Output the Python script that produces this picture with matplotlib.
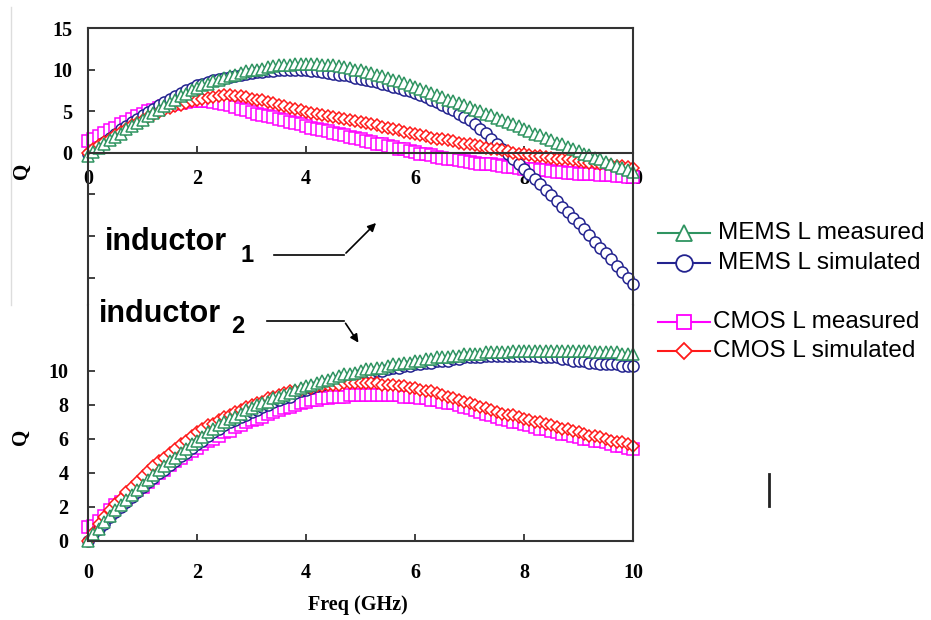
import numpy as np
import matplotlib.pyplot as plt
from matplotlib.lines import Line2D
from matplotlib.patches import FancyArrowPatch

W, H = 931, 620

# frequency sweep, 0.1 GHz steps
freq = np.linspace(0, 10, 101)

# upper plot (inductor 1)
mems_meas_1 = [-0.4, 0.1, 0.6, 1.0, 1.5, 1.9,
               2.3, 2.8, 3.2, 3.6, 4.0, 4.4, 4.8, 5.2, 5.6, 6.0,
               6.4, 6.8, 7.1, 7.5, 7.8, 8.1, 8.3, 8.6, 8.8, 9.0,
               9.2, 9.4, 9.6, 9.8, 9.9, 10.0, 10.1, 10.3, 10.4, 10.5,
               10.6, 10.6, 10.7, 10.7, 10.7, 10.7, 10.7, 10.6, 10.6, 10.5,
               10.4, 10.3, 10.2, 10.0, 9.9, 9.7, 9.6, 9.4, 9.2, 9.0,
               8.8, 8.6, 8.4, 8.1, 7.9, 7.7, 7.4, 7.2, 6.9, 6.7,
               6.4, 6.2, 6.0, 5.7, 5.5, 5.2, 5.0, 4.7, 4.5, 4.2,
               3.9, 3.7, 3.4, 3.2, 2.9, 2.6, 2.3, 2.1, 1.8, 1.5,
               1.2, 1.0, 0.7, 0.5, 0.2, -0.1, -0.3, -0.6, -0.8, -1.1,
               -1.3, -1.6, -1.8, -2.1, -2.3]
mems_sim_1 = [-0.2, 0.3, 0.8, 1.3, 1.8, 2.3,
              2.8, 3.2, 3.7, 4.1, 4.5, 4.9, 5.3, 5.7, 6.1, 6.5,
              6.8, 7.2, 7.5, 7.8, 8.1, 8.3, 8.5, 8.7, 8.9, 9.0,
              9.1, 9.2, 9.4, 9.5, 9.6, 9.7, 9.7, 9.8, 9.8, 9.9,
              9.9, 9.9, 9.9, 9.9, 9.9, 9.8, 9.8, 9.7, 9.6, 9.5,
              9.4, 9.3, 9.2, 9.0, 8.9, 8.8, 8.6, 8.5, 8.3, 8.1,
              7.9, 7.8, 7.6, 7.4, 7.2, 6.9, 6.7, 6.4, 6.1, 5.8,
              5.4, 5.1, 4.7, 4.3, 3.9, 3.4, 2.9, 2.4, 1.7, 1.1,
              0.5, -0.1, -0.7, -1.4, -2.0, -2.6, -3.2, -3.8, -4.5, -5.1,
              -5.8, -6.5, -7.1, -7.8, -8.5, -9.2, -9.9, -10.7, -11.4, -12.1,
              -12.8, -13.6, -14.3, -15.1, -15.8]
cmos_meas_1 = [1.4, 1.7, 2.0, 2.4, 2.7, 3.0,
               3.4, 3.7, 4.1, 4.4, 4.7, 5.0, 5.2, 5.4, 5.6, 5.8,
               5.9, 6.0, 6.1, 6.2, 6.2, 6.2, 6.2, 6.1, 6.0, 5.9,
               5.7, 5.5, 5.3, 5.1, 4.9, 4.7, 4.6, 4.4, 4.3, 4.1,
               3.9, 3.7, 3.6, 3.4, 3.2, 3.0, 2.9, 2.7, 2.6, 2.4,
               2.2, 2.1, 1.9, 1.8, 1.6, 1.4, 1.3, 1.1, 1.0, 0.8,
               0.7, 0.5, 0.4, 0.2, 0.1, -0.1, -0.2, -0.3, -0.5, -0.6,
               -0.7, -0.8, -0.9, -1.0, -1.1, -1.2, -1.3, -1.3, -1.4, -1.5,
               -1.6, -1.7, -1.7, -1.8, -1.9, -2.0, -2.0, -2.1, -2.1, -2.2,
               -2.3, -2.3, -2.4, -2.4, -2.5, -2.5, -2.6, -2.6, -2.7, -2.7,
               -2.7, -2.8, -2.8, -2.9, -2.9]
cmos_sim_1 = [0.0, 0.4, 0.9, 1.3, 1.7, 2.1,
              2.5, 2.9, 3.3, 3.6, 4.0, 4.3, 4.6, 4.9, 5.2, 5.4,
              5.6, 5.8, 6.0, 6.2, 6.3, 6.5, 6.6, 6.7, 6.8, 6.9,
              6.9, 6.8, 6.8, 6.7, 6.5, 6.4, 6.3, 6.1, 6.0, 5.8,
              5.6, 5.4, 5.3, 5.1, 4.9, 4.8, 4.7, 4.6, 4.4, 4.3,
              4.2, 4.1, 4.0, 3.8, 3.7, 3.6, 3.4, 3.3, 3.1, 3.0,
              2.8, 2.7, 2.5, 2.4, 2.2, 2.1, 2.0, 1.8, 1.7, 1.6,
              1.5, 1.4, 1.2, 1.1, 1.0, 0.9, 0.8, 0.6, 0.5, 0.4,
              0.3, 0.2, 0.0, -0.1, -0.2, -0.3, -0.4, -0.4, -0.5, -0.6,
              -0.7, -0.8, -0.8, -0.9, -1.0, -1.1, -1.2, -1.2, -1.3, -1.4,
              -1.5, -1.6, -1.6, -1.7, -1.8]

# lower plot (inductor 2)
mems_meas_2 = [0.0, 0.4, 0.7, 1.1, 1.5, 1.8,
               2.1, 2.4, 2.7, 3.0, 3.3, 3.6, 3.9, 4.2, 4.4, 4.7,
               4.9, 5.2, 5.4, 5.7, 5.9, 6.1, 6.4, 6.6, 6.8, 7.0,
               7.2, 7.3, 7.5, 7.7, 7.8, 8.0, 8.1, 8.2, 8.4, 8.5,
               8.6, 8.7, 8.9, 9.0, 9.1, 9.2, 9.3, 9.4, 9.5, 9.6,
               9.7, 9.8, 9.8, 9.9, 10.0, 10.1, 10.1, 10.2, 10.2, 10.3,
               10.4, 10.4, 10.5, 10.5, 10.6, 10.6, 10.7, 10.7, 10.8, 10.8,
               10.8, 10.9, 10.9, 11.0, 11.0, 11.0, 11.0, 11.1, 11.1, 11.1,
               11.1, 11.1, 11.2, 11.2, 11.2, 11.2, 11.2, 11.2, 11.2, 11.2,
               11.2, 11.2, 11.2, 11.2, 11.2, 11.2, 11.2, 11.1, 11.1, 11.1,
               11.1, 11.1, 11.0, 11.0, 11.0]
mems_sim_2 = [0.0, 0.4, 0.7, 1.0, 1.4, 1.7,
              2.0, 2.3, 2.6, 2.9, 3.2, 3.5, 3.7, 4.0, 4.2, 4.5,
              4.7, 5.0, 5.2, 5.5, 5.7, 5.9, 6.2, 6.4, 6.6, 6.8,
              7.0, 7.1, 7.3, 7.4, 7.6, 7.7, 7.9, 8.0, 8.2, 8.3,
              8.4, 8.5, 8.7, 8.8, 8.9, 9.0, 9.1, 9.2, 9.3, 9.4,
              9.5, 9.6, 9.6, 9.7, 9.8, 9.9, 9.9, 10.0, 10.0, 10.1,
              10.2, 10.2, 10.3, 10.3, 10.4, 10.4, 10.5, 10.5, 10.6, 10.6,
              10.6, 10.7, 10.7, 10.8, 10.8, 10.8, 10.8, 10.9, 10.9, 10.9,
              10.9, 10.9, 10.9, 10.9, 10.9, 10.9, 10.9, 10.8, 10.8, 10.8,
              10.8, 10.7, 10.7, 10.6, 10.6, 10.6, 10.5, 10.5, 10.4, 10.4,
              10.4, 10.4, 10.3, 10.3, 10.3]
cmos_meas_2 = [0.8, 0.9, 1.2, 1.5, 1.8, 2.1,
               2.3, 2.5, 2.8, 3.0, 3.2, 3.5, 3.7, 4.0, 4.2, 4.5,
               4.7, 4.9, 5.1, 5.3, 5.5, 5.7, 5.9, 6.0, 6.2, 6.4,
               6.5, 6.7, 6.8, 7.0, 7.1, 7.2, 7.3, 7.5, 7.6, 7.7,
               7.8, 7.9, 8.0, 8.1, 8.2, 8.3, 8.3, 8.4, 8.4, 8.5,
               8.5, 8.5, 8.6, 8.6, 8.6, 8.6, 8.6, 8.6, 8.6, 8.6,
               8.6, 8.6, 8.5, 8.5, 8.5, 8.4, 8.4, 8.3, 8.3, 8.2,
               8.1, 8.1, 8.0, 7.9, 7.8, 7.7, 7.6, 7.5, 7.4, 7.3,
               7.2, 7.1, 7.0, 7.0, 6.9, 6.8, 6.7, 6.6, 6.6, 6.5,
               6.4, 6.3, 6.3, 6.2, 6.1, 6.0, 6.0, 5.9, 5.9, 5.8,
               5.7, 5.6, 5.6, 5.5, 5.4]
cmos_sim_2 = [0.0, 0.5, 1.0, 1.4, 1.8, 2.2,
              2.5, 2.9, 3.2, 3.5, 3.8, 4.1, 4.4, 4.7, 4.9, 5.2,
              5.4, 5.7, 5.9, 6.2, 6.4, 6.6, 6.8, 6.9, 7.1, 7.3,
              7.4, 7.6, 7.7, 7.9, 8.0, 8.1, 8.2, 8.4, 8.5, 8.6,
              8.7, 8.8, 8.8, 8.9, 9.0, 9.0, 9.1, 9.1, 9.2, 9.2,
              9.2, 9.3, 9.3, 9.3, 9.3, 9.3, 9.3, 9.3, 9.2, 9.2,
              9.2, 9.1, 9.1, 9.0, 9.0, 8.9, 8.8, 8.8, 8.7, 8.6,
              8.5, 8.4, 8.3, 8.2, 8.1, 8.0, 7.9, 7.8, 7.7, 7.6,
              7.5, 7.4, 7.4, 7.3, 7.2, 7.1, 7.0, 7.0, 6.9, 6.8,
              6.7, 6.6, 6.6, 6.5, 6.4, 6.3, 6.2, 6.2, 6.1, 6.0,
              5.9, 5.8, 5.8, 5.7, 5.6]

green = '#2f9461'
blue = '#23238f'
pink = '#ff00ff'
red = '#ff1a1a'

serif = 'Liberation Serif'
sans = 'Liberation Sans'


def fx(x):
    return x / W


def fy(y):
    return 1 - y / H


def draw(ax, mm, ms, cm, cs):
    kw = dict(lw=1, mfc='white', mew=1.1, clip_on=False)
    ax.plot(freq, cm, color=pink, marker='s', ms=8, **kw)
    ax.plot(freq, ms, color=blue, marker='o', ms=8, **kw)
    ax.plot(freq, cs, color=red, marker='D', ms=6.6, **kw)
    ax.plot(freq, mm, color=green, marker='^', ms=9, **kw)


def style(ax, xpad, ypad):
    for s in ax.spines.values():
        s.set_linewidth(1.5)
        s.set_color('#333333')
    ax.set_xlim(0, 10)
    ax.set_xticks(range(0, 11, 2))
    ax.tick_params(direction='in', length=5, width=1.3, color='#333333')
    ax.tick_params(axis='x', pad=xpad)
    ax.tick_params(axis='y', pad=ypad)
    for lab in ax.get_xticklabels() + ax.get_yticklabels():
        lab.set_fontfamily(serif)
        lab.set_fontweight('bold')
        lab.set_fontsize(14.5)


fig = plt.figure(figsize=(W / 100, H / 100), dpi=100)

# top panel
ax1 = fig.add_axes([fx(88), fy(305), fx(545), 277 / H])
draw(ax1, mems_meas_1, mems_sim_1, cmos_meas_1, cmos_sim_1)
ax1.set_ylim(-18.3, 15)
ax1.set_yticks([15, 10, 5, 0, -5, -10, -15])
ax1.set_yticklabels(['15', '10', '5', '0', '', '', ''])
ax1.spines['bottom'].set_position(('data', 0))
style(ax1, 12, 11)

# bottom panel
ax2 = fig.add_axes([fx(88), fy(541), fx(545), 236 / H])
draw(ax2, mems_meas_2, mems_sim_2, cmos_meas_2, cmos_sim_2)
ax2.set_ylim(0, 236 / 17)
ax2.set_yticks(range(0, 11, 2))
ax2.spines['top'].set_visible(False)
style(ax2, 16, 14)

# axis titles
fig.text(fx(22), fy(171), 'Q', rotation=90, ha='center', va='center',
         family=serif, fontweight='bold', fontsize=15)
fig.text(fx(21), fy(437), 'Q', rotation=90, ha='center', va='center',
         family=serif, fontweight='bold', fontsize=15)
fig.text(fx(358), fy(605), 'Freq (GHz)', ha='center', va='center',
         family=serif, fontweight='bold', fontsize=14.5)

# inductor labels and arrows
fig.text(fx(105), fy(250), 'inductor', ha='left', va='baseline',
         family=sans, fontweight='bold', fontsize=22)
fig.text(fx(240), fy(262), '1', ha='left', va='baseline',
         family=sans, fontweight='bold', fontsize=17)
fig.text(fx(99), fy(322), 'inductor', ha='left', va='baseline',
         family=sans, fontweight='bold', fontsize=22)
fig.text(fx(231), fy(333), '2', ha='left', va='baseline',
         family=sans, fontweight='bold', fontsize=17)

fig.add_artist(Line2D([fx(274), fx(344)], [fy(255), fy(255)], color='k', lw=1.2))
fig.add_artist(FancyArrowPatch((fx(344), fy(255)), (fx(378), fy(221)),
                               transform=fig.transFigure, arrowstyle='-|>',
                               mutation_scale=12, lw=1.2, color='k'))
fig.add_artist(Line2D([fx(267), fx(344)], [fy(321), fy(321)], color='k', lw=1.2))
fig.add_artist(FancyArrowPatch((fx(344), fy(321)), (fx(360), fy(345)),
                               transform=fig.transFigure, arrowstyle='-|>',
                               mutation_scale=12, lw=1.2, color='k'))

# legend
entries = [('MEMS L measured', green, '^', 12, 233, 718),
           ('MEMS L simulated', blue, 'o', 12, 263, 718),
           ('CMOS L measured', pink, 's', 10, 322, 713),
           ('CMOS L simulated', red, 'D', 8.5, 351, 713)]
for label, c, m, size, y, tx in entries:
    fig.add_artist(Line2D([fx(658), fx(710)], [fy(y), fy(y)], color=c, lw=1.5))
    fig.add_artist(Line2D([fx(684)], [fy(y)], color=c, marker=m, ms=size,
                          mfc='white', mew=1.3, lw=0))
    fig.text(fx(tx), fy(y), label, ha='left', va='center', family=sans, fontsize=17.5)

# leftover frame marks of the pasted panels
fig.add_artist(Line2D([fx(11), fx(11)], [fy(7), fy(305)], color='#dddddd', lw=1))
fig.add_artist(Line2D([fx(769), fx(769)], [fy(474), fy(506)], color='#222222', lw=2))

fig.savefig('out.png', dpi=100)
